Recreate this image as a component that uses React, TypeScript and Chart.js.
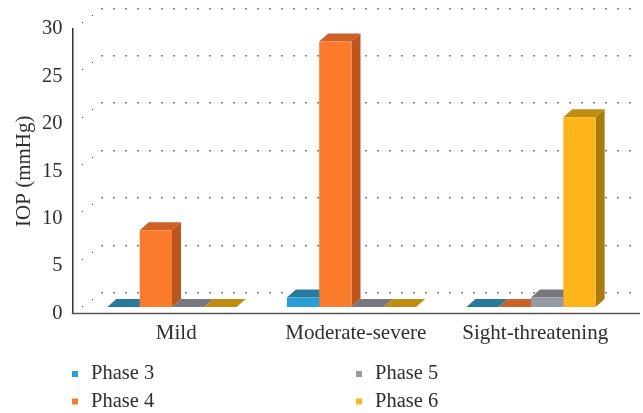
import React, { useEffect, useRef } from "react";
import { Chart, registerables } from "chart.js";

Chart.register(...registerables);

const categories = ["Mild", "Moderate-severe", "Sight-threatening"];
const phase3 = [0, 1, 0];
const phase4 = [8.1, 28, 0];
const phase5 = [0, 0, 1];
const phase6 = [0, 0, 20];
const tickValues = [0, 5, 10, 15, 20, 25, 30];
const seriesNames = ["Phase 3", "Phase 4", "Phase 5", "Phase 6"];
const frontColors = ["#2a9ed6", "#f97b2b", "#969aa3", "#fdb51b"];
const topColors = ["#2a7a9d", "#cd6128", "#77777f", "#bf8e10"];
const sideColors = ["#1f779f", "#bd551c", "#6f7279", "#a97a0e"];

const FONT = '"Liberation Serif", serif';
const TEXT = "#2f2f2f";
const DX = 9;
const DY = 8;
const SHIFT_X = 9.75;
const SHIFT_Y = -6.5;

const threeD = {
  id: "threeD",
  beforeDraw(chart: any) {
    const { ctx, chartArea: a } = chart;
    const y = chart.scales.y;
    ctx.save();
    for (const v of tickValues) {
      const py = y.getPixelForValue(v);
      ctx.fillStyle = "#444";
      for (let k = 1; k <= 2; k++) {
        ctx.fillRect(Math.round(a.left + 9.5 * k), Math.round(py - 7.2 * k), 1, 1);
      }
      ctx.fillStyle = "#808080";
      for (let x = 101; x < 632; x += 12) {
        ctx.fillRect(x, Math.round(py - 21.5), 2, 1.5);
      }
    }
    ctx.restore();
  },
  beforeDatasetsDraw(chart: any) {
    const { ctx } = chart;
    ctx.save();
    ctx.translate(SHIFT_X, SHIFT_Y);
    chart.data.datasets.forEach((_: any, i: number) => {
      chart.getDatasetMeta(i).data.forEach((bar: any) => {
        const { x, y, base, width } = bar.getProps(["x", "y", "base", "width"], true);
        const l = x - width / 2;
        const r = x + width / 2;
        ctx.fillStyle = topColors[i];
        ctx.beginPath();
        ctx.moveTo(l, y);
        ctx.lineTo(l + DX, y - DY);
        ctx.lineTo(r + DX, y - DY);
        ctx.lineTo(r, y);
        ctx.closePath();
        ctx.fill();
        if (base - y > 0.5) {
          ctx.fillStyle = sideColors[i];
          ctx.beginPath();
          ctx.moveTo(r, y);
          ctx.lineTo(r + DX, y - DY);
          ctx.lineTo(r + DX, base - DY);
          ctx.lineTo(r, base);
          ctx.closePath();
          ctx.fill();
        }
      });
    });
    ctx.restore();
    ctx.save();
    ctx.translate(SHIFT_X, SHIFT_Y);
  },
  afterDatasetsDraw(chart: any) {
    const { ctx, chartArea: a } = chart;
    ctx.restore();
    ctx.save();
    ctx.strokeStyle = "#555";
    ctx.lineWidth = 1.5;
    ctx.beginPath();
    ctx.moveTo(a.left - 0.75, a.bottom);
    ctx.lineTo(640, a.bottom);
    ctx.stroke();
    ctx.restore();
  },
  afterDraw(chart: any) {
    const { ctx } = chart;
    const xs = [72, 356];
    const ys = [379, 406.5];
    ctx.save();
    ctx.font = `20.5px ${FONT}`;
    ctx.textBaseline = "alphabetic";
    ctx.textAlign = "left";
    chart.data.datasets.forEach((d: any, i: number) => {
      const col = Math.floor(i / 2);
      const row = i % 2;
      ctx.fillStyle = d.backgroundColor;
      ctx.fillRect(xs[col], ys[row] - 8, 6, 6);
      ctx.fillStyle = TEXT;
      ctx.fillText(d.label, xs[col] + 19, ys[row]);
    });
    ctx.restore();
  },
};

export default function App() {
  const ref = useRef<HTMLCanvasElement>(null);
  useEffect(() => {
    const series = [phase3, phase4, phase5, phase6];
    const chart = new Chart(ref.current as HTMLCanvasElement, {
      type: "bar",
      data: {
        labels: categories,
        datasets: series.map((data, i) => ({
          label: seriesNames[i],
          data,
          backgroundColor: frontColors[i],
          borderWidth: 0,
          clip: false as any,
          categoryPercentage: 0.72,
          barPercentage: 1,
        })),
      },
      options: {
        responsive: false,
        animation: false,
        layout: { padding: { top: 29, right: 32, left: 0, bottom: 0 } },
        plugins: { legend: { display: false }, tooltip: { enabled: false } },
        scales: {
          x: {
            grid: { display: false },
            border: { display: false },
            afterFit(s: any) { s.height = 99.5; },
            ticks: {
              color: TEXT,
              font: { family: FONT, size: 21 },
              padding: -1,
              labelOffset: 14,
              maxRotation: 0,
            },
          },
          y: {
            min: 0,
            max: 30,
            afterFit(s: any) { s.width = 72.5; },
            grid: { display: false },
            border: { display: true, color: "#333", width: 1.5 },
            ticks: {
              stepSize: 5,
              color: TEXT,
              font: { family: FONT, size: 20.5 },
              padding: 2,
            },
            title: {
              display: true,
              text: "IOP (mmHg)",
              color: TEXT,
              font: { family: FONT, size: 21 },
              padding: { top: 12, bottom: 0 },
            },
          },
        },
      },
      plugins: [threeD],
    } as any);
    return () => chart.destroy();
  }, []);
  return (
    <div style={{ position: "absolute", left: 0, top: 0, width: 643, height: 413, background: "#fff" }}>
      <canvas ref={ref} width={643} height={413} style={{ display: "block" }} />
    </div>
  );
}
